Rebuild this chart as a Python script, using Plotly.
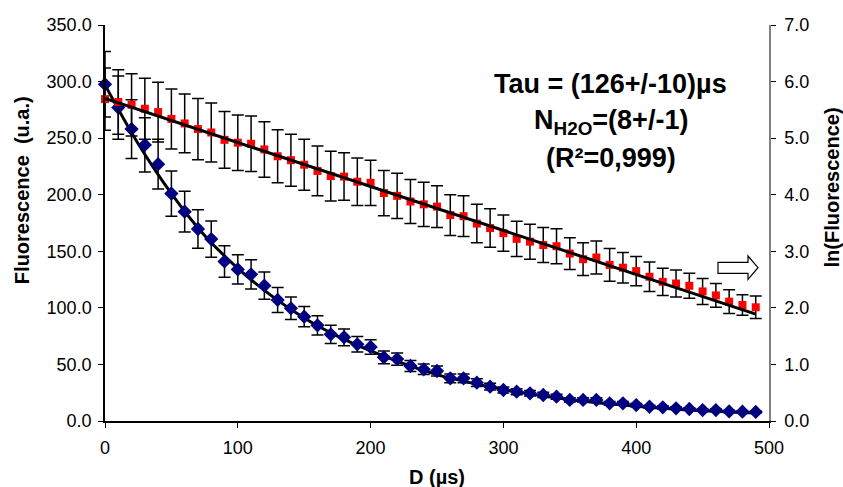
import plotly.graph_objects as go

# ---------------- data ----------------
delay_us = [0, 10, 20, 30, 40, 50, 60, 70, 80, 90,
            100, 110, 120, 130, 140, 150, 160, 170, 180, 190,
            200, 210, 220, 230, 240, 250, 260, 270, 280, 290,
            300, 310, 320, 330, 340, 350, 360, 370, 380, 390,
            400, 410, 420, 430, 440, 450, 460, 470, 480, 490]

fluorescence = [297.6, 277.0, 258.0, 244.0, 227.0, 201.0, 185.0, 169.7, 160.8, 141.0,
                134.0, 129.6, 119.6, 107.0, 99.6, 92.2, 84.6, 76.6, 74.0, 67.8,
                65.4, 56.3, 54.7, 48.6, 45.7, 44.2, 37.7, 37.7, 33.9, 30.3,
                27.4, 25.9, 24.5, 23.0, 21.5, 18.6, 18.6, 18.6, 15.6, 15.6,
                14.1, 12.6, 12.1, 11.2, 10.6, 9.7, 9.7, 8.5, 8.2, 8.0]

fluorescence_err = [29, 28, 26, 24, 22, 20, 18, 17, 16, 14,
                    13, 13, 12, 11, 10, 9, 8.5, 8, 7.4, 6.8,
                    6.5, 5.6, 5.5, 4.9, 4.6, 4.4, 3.8, 3.8, 3.4, 3.0,
                    2.7, 2.6, 2.5, 2.3, 2.2, 1.9, 1.9, 1.9, 1.6, 1.6,
                    1.4, 1.3, 1.2, 1.1, 1.1, 1.0, 1.0, 0.9, 0.8, 0.8]

ln_fluorescence = [5.69, 5.64, 5.59, 5.52, 5.46, 5.34, 5.26, 5.16, 5.10, 4.97,
                   4.92, 4.90, 4.80, 4.68, 4.61, 4.53, 4.42, 4.33, 4.32, 4.23,
                   4.21, 4.03, 3.98, 3.88, 3.83, 3.79, 3.64, 3.62, 3.49, 3.41,
                   3.32, 3.22, 3.17, 3.11, 3.09, 2.96, 2.86, 2.89, 2.76, 2.71,
                   2.65, 2.55, 2.46, 2.43, 2.39, 2.29, 2.22, 2.11, 2.05, 2.01]

ln_fluorescence_err = [0.55, 0.57, 0.55, 0.54, 0.53, 0.53, 0.52, 0.54, 0.52, 0.50,
                       0.49, 0.49, 0.49, 0.47, 0.46, 0.45, 0.44, 0.44, 0.42, 0.42,
                       0.40, 0.40, 0.40, 0.39, 0.39, 0.37, 0.36, 0.36, 0.34, 0.34,
                       0.32, 0.31, 0.31, 0.31, 0.31, 0.28, 0.29, 0.29, 0.29, 0.27,
                       0.26, 0.26, 0.24, 0.24, 0.22, 0.23, 0.21, 0.21, 0.18, 0.20]

# fitted curves
exp_fit_x = [0, 25, 50, 75, 100, 125, 150, 175, 200, 250, 300, 350, 400, 450, 490]
exp_fit_y = [297, 245, 201, 164, 135, 111, 91, 75, 62, 41, 28, 19, 13, 9, 7]

lin_fit_x = [0, 490]
lin_fit_y = [5.70, 1.89]

x_ticks = [0, 100, 200, 300, 400, 500]

# ---------------- figure ----------------
FONT = "Liberation Sans, Arial, sans-serif"

fig = go.Figure()

# ln(Fluorescence) points (right axis)
fig.add_trace(go.Scatter(
    x=delay_us, y=ln_fluorescence, yaxis="y2", mode="markers",
    marker=dict(symbol="square", size=8, color="#FF0000"),
    error_y=dict(type="data", array=ln_fluorescence_err, visible=True,
                 color="black", thickness=1.5, width=6),
    showlegend=False, cliponaxis=False))

fig.add_trace(go.Scatter(
    x=lin_fit_x, y=lin_fit_y, yaxis="y2", mode="lines",
    line=dict(color="black", width=3), showlegend=False))

# Fluorescence fit + points (left axis)
fig.add_trace(go.Scatter(
    x=exp_fit_x, y=exp_fit_y, mode="lines",
    line=dict(color="black", width=3, shape="spline"), showlegend=False))

fig.add_trace(go.Scatter(
    x=delay_us, y=fluorescence, mode="markers",
    marker=dict(symbol="diamond", size=11, color="#000080"),
    error_y=dict(type="data", array=fluorescence_err, visible=True,
                 color="black", thickness=1.5, width=6),
    showlegend=False, cliponaxis=False))

# hollow arrow pointing to right axis
def px2data(px, py):
    return (px - 105) / 664 * 500, (421 - py) / 396 * 350

pts = [(718, 262.3), (748, 262.3), (748, 256), (758, 267.7),
       (748, 279.3), (748, 273.3), (718, 273.3)]
path = ""
for i, (a, b) in enumerate(pts):
    dx, dy = px2data(a, b)
    path += ("M" if i == 0 else "L") + f"{dx:.3f},{dy:.3f} "
path += "Z"
fig.add_shape(type="path", path=path, xref="x", yref="y",
              line=dict(color="black", width=1.2), fillcolor="white")

annos = [
    dict(text="<b>Tau = (126+/-10)µs</b>", x=0.762, y=0.851),
    dict(text="<b>N<sub>H2O</sub>=(8+/-1)</b>", x=0.762, y=0.755),
    dict(text="<b>(R²=0,999)</b>", x=0.762, y=0.664),
]
for a in annos:
    fig.add_annotation(text=a["text"], x=a["x"], y=a["y"], xref="paper", yref="paper",
                       xanchor="center", yanchor="middle", showarrow=False,
                       font=dict(family=FONT, size=27, color="black"))

fig.add_annotation(text="<b>Fluorescence  (u.a.)</b>", x=-0.125, y=0.583,
                   xref="paper", yref="paper", textangle=-90, showarrow=False,
                   xanchor="center", yanchor="middle",
                   font=dict(family=FONT, size=20, color="black"))
fig.add_annotation(text="<b>ln(Fluorescence)</b>", x=1.095, y=0.590,
                   xref="paper", yref="paper", textangle=-90, showarrow=False,
                   xanchor="center", yanchor="middle",
                   font=dict(family=FONT, size=20, color="black"))
fig.add_annotation(text="<b>D (µs)</b>", x=0.5, y=-0.141,
                   xref="paper", yref="paper", showarrow=False,
                   xanchor="center", yanchor="middle",
                   font=dict(family=FONT, size=20, color="black"))

fig.update_layout(
    width=843, height=487,
    margin=dict(l=105, r=74, t=25, b=66),
    paper_bgcolor="white", plot_bgcolor="white",
    font=dict(family=FONT, size=18, color="black"),
    xaxis=dict(range=[0, 500], tickvals=x_ticks, showgrid=False, zeroline=False,
               showline=True, linecolor="black", linewidth=1.5,
               ticks="outside", ticklen=5, tickcolor="black",
               tickfont=dict(size=18), ticklabelstandoff=5),
    yaxis=dict(range=[0, 350], dtick=50, tickformat=".1f", showgrid=False,
               zeroline=False, showline=True, linecolor="black", linewidth=1.5,
               ticks="outside", ticklen=5, tickcolor="black",
               tickfont=dict(size=18), ticklabelstandoff=3),
    yaxis2=dict(range=[0, 7], dtick=1, tickformat=".1f", overlaying="y",
                side="right", showgrid=False, zeroline=False, showline=True,
                linecolor="#808080", linewidth=1.5, ticks="outside", ticklen=5,
                tickcolor="black", tickfont=dict(size=18), ticklabelstandoff=5),
)

fig.write_html("out.html",
               config={"displayModeBar": False},
               post_script="document.body.style.margin='0';document.body.style.overflow='hidden';")
